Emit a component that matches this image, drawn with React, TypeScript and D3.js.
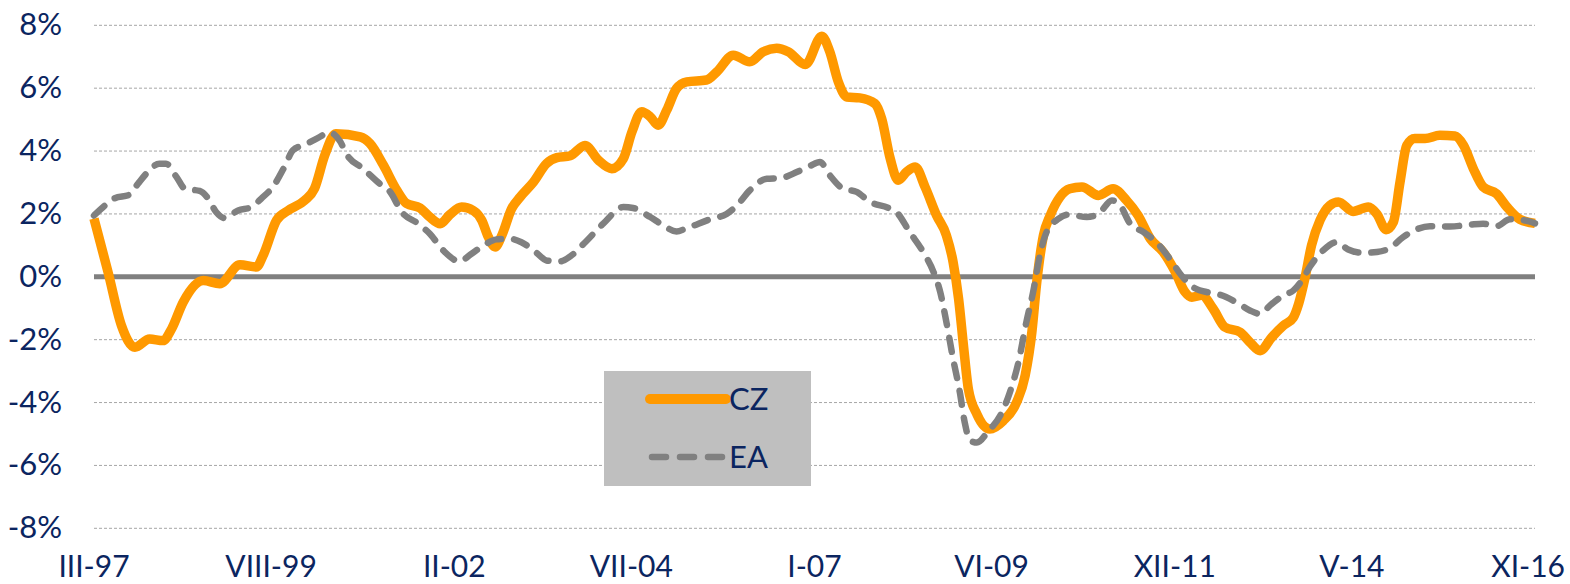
import React from "react";
import * as d3 from "d3";

// Month index counted from III-97 (March 1997 = 0)
const tickMonths = [0, 29, 59, 88, 118, 147, 177, 206, 236];
const tickLabels = ["III-97", "VIII-99", "II-02", "VII-04", "I-07", "VI-09", "XII-11", "V-14", "XI-16"];
const yTicks = [8, 6, 4, 2, 0, -2, -4, -6, -8];

const czMonths = [0, 2.3, 4.5, 6.7, 9.1, 11.3, 12.7, 14.6, 17.9, 20.6, 23.9, 26.6, 27.7, 29.9, 31.8, 34.5, 36.1, 37.8, 39.6, 43.6, 45.2, 47.4, 49.6, 51.2, 53.4, 55, 56.7, 58.3, 60.2, 62.1, 63.5, 64.6, 65.7, 66.8, 68.4, 69.8, 72, 74.1, 75.8, 78, 80.4, 82.6, 84.8, 86.7, 88.1, 89.7, 91.1, 92.4, 93.8, 95.4, 97.1, 100.3, 102, 104.7, 107.4, 109.6, 111.8, 113.7, 116.5, 119.2, 120.5, 121.9, 123.3, 125.4, 127.9, 129, 130.4, 131.7, 133.1, 134.5, 136.1, 138, 139.6, 140.7, 141.6, 142.4, 143.2, 144.6, 146.7, 148.9, 151.1, 152.5, 153.6, 154.4, 155.5, 156.6, 158.2, 159.8, 161.8, 164.5, 166.9, 169.1, 171, 173, 175.1, 177.1, 178.7, 179.8, 181.4, 183.3, 185.2, 187.7, 189.3, 191, 192.9, 194.8, 196.4, 197.3, 198.3, 199.4, 200.8, 202.4, 203.8, 206.2, 208.7, 210.1, 211.6, 212.8, 213.9, 215, 216.3, 218, 220.4, 222.9, 224.3, 225.9, 227.5, 229.7, 231.4, 233.5, 236];
const czValues = [1.85, 0.15, -1.55, -2.24, -1.98, -2.03, -1.66, -0.81, -0.12, -0.22, 0.38, 0.31, 0.68, 1.8, 2.11, 2.43, 2.8, 3.87, 4.55, 4.45, 4.24, 3.55, 2.75, 2.33, 2.19, 1.9, 1.69, 1.98, 2.22, 2.11, 1.8, 1.26, 0.95, 1.32, 2.17, 2.54, 3.02, 3.6, 3.79, 3.85, 4.18, 3.71, 3.44, 3.76, 4.61, 5.25, 5.09, 4.82, 5.3, 5.99, 6.2, 6.26, 6.52, 7.05, 6.84, 7.16, 7.27, 7.16, 6.75, 7.65, 7.16, 6.2, 5.72, 5.69, 5.51, 5.03, 3.76, 3.07, 3.34, 3.49, 2.86, 1.95, 1.32, 0.47, -0.7, -2.19, -3.57, -4.37, -4.84, -4.58, -3.99, -3.14, -1.76, -0.17, 1.32, 1.95, 2.54, 2.8, 2.86, 2.59, 2.8, 2.43, 1.95, 1.21, 0.79, 0.15, -0.49, -0.65, -0.59, -1.02, -1.6, -1.76, -2.08, -2.35, -1.92, -1.55, -1.3, -0.85, -0.06, 1.0, 1.8, 2.27, 2.38, 2.08, 2.22, 2.0, 1.5, 1.74, 3.02, 4.18, 4.4, 4.4, 4.5, 4.48, 4.18, 3.44, 2.86, 2.64, 2.22, 1.83, 1.7];

const eaMonths = [0, 1.8, 3.4, 5.8, 7.2, 8.8, 10.7, 11.8, 13.5, 14.9, 17.3, 18.7, 20, 21.4, 23.6, 25.8, 27.4, 29.3, 31.2, 32.6, 34.5, 36.7, 38.6, 40.3, 41.4, 44.1, 46.8, 48.5, 50.4, 53.1, 55, 57.2, 59.9, 61.6, 64, 65.9, 68.1, 70, 72.5, 74.1, 76.3, 78, 80.2, 83.4, 86.7, 88.3, 91.1, 93.2, 95.4, 97.1, 100.9, 103.6, 105.3, 107.4, 110.2, 112.4, 115.1, 117.3, 118.9, 120.5, 122.7, 124.9, 127.1, 130.1, 131.4, 133.6, 135.8, 137.5, 138.6, 139.6, 140.7, 141.8, 142.6, 143.5, 144.6, 146.5, 148.4, 150, 151.4, 152.7, 153.8, 154.9, 156, 158, 159.6, 162.6, 164.5, 166.7, 168, 169.7, 171.9, 174, 176.2, 178.1, 180, 182.8, 184.4, 187.1, 189.3, 191, 192.6, 194.8, 196.4, 197.8, 199.1, 201.3, 203.5, 205.4, 207.9, 210.1, 212.2, 214.4, 216.6, 218.8, 222.1, 225.4, 227.5, 229.7, 231.9, 234.1, 236];
const eaValues = [1.95, 2.27, 2.5, 2.61, 2.96, 3.33, 3.6, 3.6, 3.18, 2.8, 2.73, 2.49, 2.06, 1.87, 2.11, 2.22, 2.49, 2.86, 3.5, 4.03, 4.2, 4.42, 4.59, 4.31, 3.89, 3.44, 2.96, 2.7, 2.06, 1.69, 1.37, 0.84, 0.49, 0.7, 1.02, 1.19, 1.21, 1.1, 0.76, 0.52, 0.49, 0.65, 1.05, 1.69, 2.22, 2.19, 1.9, 1.64, 1.44, 1.55, 1.83, 2.0, 2.27, 2.75, 3.12, 3.14, 3.33, 3.53, 3.65, 3.23, 2.8, 2.7, 2.38, 2.19, 2.06, 1.42, 0.79, 0.15, -0.49, -1.44, -2.61, -3.67, -4.63, -5.21, -5.27, -4.9, -4.42, -3.67, -2.72, -1.44, -0.49, 0.68, 1.42, 1.85, 1.98, 1.9, 2.0, 2.43, 2.29, 1.69, 1.42, 1.1, 0.57, 0.04, -0.33, -0.51, -0.57, -0.81, -1.07, -1.18, -0.91, -0.59, -0.44, -0.12, 0.31, 0.84, 1.1, 0.87, 0.76, 0.79, 0.91, 1.26, 1.51, 1.61, 1.6, 1.66, 1.69, 1.61, 1.83, 1.8, 1.7];

const seriesNames = ["CZ", "EA"];

const W = 1570;
const H = 584;
const TEXT = "#0b2560";
const ORANGE = "#ff9900";
const GREY = "#808080";
const FONT = "Lato, 'Open Sans', sans-serif";

export default function App() {
  const x = d3.scaleLinear().domain([0, 236]).range([94, 1535]);
  const y = d3.scaleLinear().domain([-8, 8]).range([528.3, 25.3]);

  const line = d3
    .line<[number, number]>()
    .x((d) => x(d[0]))
    .y((d) => y(d[1]))
    .curve(d3.curveMonotoneX);

  const czData = czMonths.map((m, i) => [m, czValues[i]] as [number, number]);
  const eaData = eaMonths.map((m, i) => [m, eaValues[i]] as [number, number]);

  const [x0, x1] = x.range();
  const last = tickMonths.length - 1;

  return (
    <svg
      width={W}
      height={H}
      style={{ position: "absolute", left: 0, top: 0, background: "#fff" }}
      fontFamily={FONT}
    >
      {/* gridlines */}
      {yTicks
        .filter((t) => t !== 0)
        .map((t) => (
          <line
            key={"g" + t}
            x1={x0}
            x2={x1}
            y1={y(t)}
            y2={y(t)}
            stroke="#a6a6a6"
            strokeWidth={1}
            strokeDasharray="3 2"
          />
        ))}
      {/* zero line */}
      <line x1={x0} x2={x1} y1={y(0)} y2={y(0)} stroke={GREY} strokeWidth={5} />

      {/* y labels */}
      {yTicks.map((t) => (
        <text
          key={"y" + t}
          x={62}
          y={y(t) + 10}
          textAnchor="end"
          fontSize={31}
          fill={TEXT}
        >
          {t + "%"}
        </text>
      ))}

      {/* x labels */}
      {tickMonths.map((m, i) => (
        <text
          key={"x" + m}
          x={i === last ? W - 5 : x(m)}
          y={577}
          textAnchor={i === last ? "end" : "middle"}
          fontSize={30}
          fill={TEXT}
        >
          {tickLabels[i]}
        </text>
      ))}

      {/* series */}
      <path d={line(czData) || ""} fill="none" stroke={ORANGE} strokeWidth={9.5} strokeLinejoin="round" />
      <path
        d={line(eaData) || ""}
        fill="none"
        stroke={GREY}
        strokeWidth={6.5}
        strokeDasharray="14 13"
        strokeLinecap="round"
        strokeLinejoin="round"
      />

      {/* legend */}
      <rect x={604} y={371} width={207} height={115} fill="#bfbfbf" />
      <line x1={650} x2={726} y1={399} y2={399} stroke={ORANGE} strokeWidth={10} strokeLinecap="round" />
      <text x={729} y={410} fontSize={31} fill={TEXT}>
        {seriesNames[0]}
      </text>
      <line
        x1={652}
        x2={724}
        y1={457}
        y2={457}
        stroke={GREY}
        strokeWidth={6.5}
        strokeDasharray="14 14"
        strokeLinecap="round"
      />
      <text x={729} y={468} fontSize={31} fill={TEXT}>
        {seriesNames[1]}
      </text>
    </svg>
  );
}
